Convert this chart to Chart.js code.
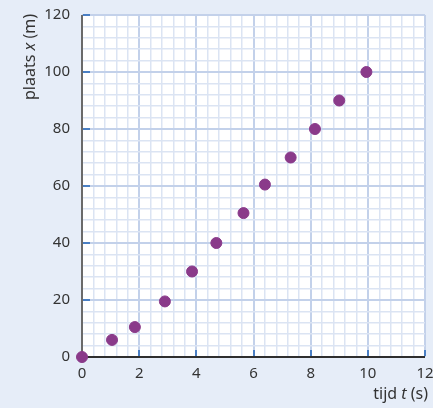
<!DOCTYPE html>
<html>
<head>
<meta charset="utf-8">
<script src="https://cdn.jsdelivr.net/npm/chart.js@4"></script>
<style>
  html, body { margin: 0; padding: 0; background: #e6edf8; }
  #wrap { width: 433px; height: 408px; }
</style>
</head>
<body>
<div id="wrap"><canvas id="chart_xt" width="433" height="408"></canvas></div>
<script>
// tijd t (s) en plaats x (m)
const tijd   = [0, 1.05, 1.85, 2.9, 3.85, 4.7, 5.65, 6.4, 7.3, 8.15, 9.0, 9.95];
const plaats = [0, 6, 10.5, 19.5, 30, 40, 50.5, 60.5, 70, 80, 90, 100];
const xTicks = [0, 2, 4, 6, 8, 10, 12];
const yTicks = [0, 20, 40, 60, 80, 100, 120];

const FONT = '"Noto Sans", sans-serif';
const isMajor = (v, step) => Math.abs(v / step - Math.round(v / step)) < 1e-6;

const paperPlugin = {
  id: 'paper',
  beforeDraw(chart) {
    const c = chart.ctx, a = chart.chartArea;
    c.save();
    c.fillStyle = '#e6edf8';
    c.fillRect(0, 0, chart.width, chart.height);
    c.fillStyle = '#ffffff';
    c.fillRect(a.left, a.top, a.right - a.left, a.bottom - a.top);
    c.restore();
  },
  beforeDatasetsDraw(chart) {
    const c = chart.ctx, a = chart.chartArea;
    const xs = chart.scales.x, ys = chart.scales.y;
    c.save();
    // axis lines
    c.lineWidth = 2;
    c.strokeStyle = '#6a6a6a';
    c.beginPath(); c.moveTo(a.left, a.top); c.lineTo(a.left, a.bottom); c.stroke();
    c.strokeStyle = '#2e2e2e';
    c.beginPath(); c.moveTo(a.left - 1, a.bottom); c.lineTo(a.right, a.bottom); c.stroke();
    // small blue ticks inside
    c.strokeStyle = '#4a7fc4';
    c.lineWidth = 2;
    xTicks.forEach(v => {
      if (v === 0) return;
      const px = Math.round(xs.getPixelForValue(v));
      c.beginPath(); c.moveTo(px, a.bottom - 1); c.lineTo(px, a.bottom - 7); c.stroke();
    });
    yTicks.forEach(v => {
      if (v === 0) return;
      const py = Math.round(ys.getPixelForValue(v));
      c.beginPath(); c.moveTo(a.left + 1, py); c.lineTo(a.left + 8, py); c.stroke();
    });
    c.restore();
  },
  afterDraw(chart) {
    const c = chart.ctx;
    c.save();
    c.fillStyle = '#333333';
    // y title (rotated), italic x
    c.translate(30, 57);
    c.rotate(-Math.PI / 2);
    const parts = [['plaats ', 'normal'], ['x', 'italic'], [' (m)', 'normal']];
    let w = 0;
    parts.forEach(p => { c.font = p[1] + ' 16px ' + FONT; w += c.measureText(p[0]).width; });
    let x = -w / 2;
    c.textBaseline = 'middle';
    parts.forEach(p => { c.font = p[1] + ' 16px ' + FONT; c.fillText(p[0], x, 0); x += c.measureText(p[0]).width; });
    c.restore();
    // x title, right aligned
    c.save();
    c.fillStyle = '#333333';
    c.textBaseline = 'middle';
    const xp = [['tijd ', 'normal'], ['t', 'italic'], [' (s)', 'normal']];
    let tw = 0;
    xp.forEach(p => { c.font = p[1] + ' 16px ' + FONT; tw += c.measureText(p[0]).width; });
    let sx = 428 - tw;
    xp.forEach(p => { c.font = p[1] + ' 16px ' + FONT; c.fillText(p[0], sx, 394); sx += c.measureText(p[0]).width; });
    c.restore();
  }
};

const ctx_xt = document.getElementById('chart_xt').getContext('2d');
const xt = new Chart(ctx_xt, {
  type: 'scatter',
  data: {
    datasets: [{
      data: tijd.map((t, i) => ({ x: t, y: plaats[i] })),
      backgroundColor: '#8a3a8a',
      borderColor: '#8a3a8a',
      pointRadius: 5.5,
      pointHoverRadius: 5.5,
      clip: false
    }]
  },
  options: {
    responsive: false,
    animation: false,
    layout: { padding: { left: 0, top: 15, right: 8, bottom: 0 } },
    plugins: { legend: { display: false }, tooltip: { enabled: false } },
    scales: {
      x: {
        type: 'linear',
        min: 0, max: 12,
        border: { display: false },
        afterFit: s => { s.height = 51; s.paddingLeft = 0; s.paddingRight = 0; },
        ticks: {
          stepSize: 0.4,
          autoSkip: false,
          maxRotation: 0,
          padding: 8,
          color: '#333333',
          font: { family: FONT, size: 15 },
          callback: v => isMajor(v, 2) ? String(Math.round(v)) : ''
        },
        grid: {
          drawTicks: false,
          color: ctx => isMajor(ctx.tick.value, 2) ? '#c3d1ea' : '#dbe4f3',
          lineWidth: ctx => isMajor(ctx.tick.value, 2) ? 2 : 1.5
        }
      },
      y: {
        type: 'linear',
        min: 0, max: 120,
        border: { display: false },
        afterFit: s => { s.width = 82; s.paddingTop = 0; s.paddingBottom = 0; },
        ticks: {
          stepSize: 4,
          autoSkip: false,
          padding: 12,
          color: '#333333',
          font: { family: FONT, size: 15 },
          callback: v => isMajor(v, 20) ? String(Math.round(v)) : ''
        },
        grid: {
          drawTicks: false,
          color: ctx => isMajor(ctx.tick.value, 20) ? '#c3d1ea' : '#dbe4f3',
          lineWidth: ctx => isMajor(ctx.tick.value, 20) ? 2 : 1.5
        }
      }
    }
  },
  plugins: [paperPlugin]
});
</script>
</body>
</html>
